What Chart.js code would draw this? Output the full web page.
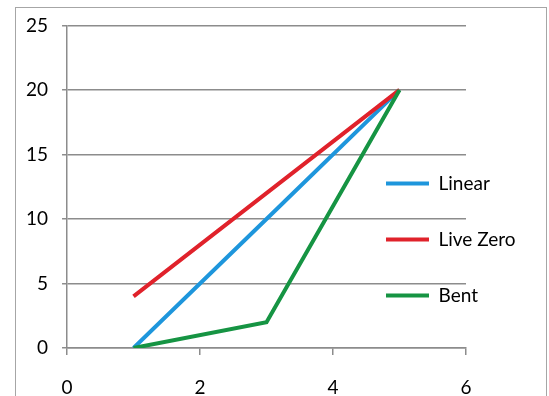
<!DOCTYPE html>
<html>
<head>
    <title>Linear / Live Zero / Bent</title>
    <meta charset="UTF-8">
    <style>
        body { margin: 0; background: #fff; }
        .frame { position: absolute; left: 15px; top: 7px; width: 530px; height: 400px; border: 1px solid #a6a6a6; }
        #myChart { position: absolute; left: 0; top: 0; }
    </style>
</head>
<body>
<div class="frame"></div>
<canvas id="myChart" width="549" height="396"></canvas>
<script src="https://cdn.jsdelivr.net/npm/chart.js"></script>
<script>
    // data
    var xValues = [1, 3, 5];
    var linearValues = [0, 10, 20];
    var liveZeroValues = [4, 12, 20];
    var bentValues = [0, 2, 20];
    var seriesNames = ['Linear', 'Live Zero', 'Bent'];
    var seriesColors = ['#1e96dc', '#e0222b', '#169443'];
    var xTicks = [0, 2, 4, 6];
    var yTicks = [0, 5, 10, 15, 20, 25];

    function points(ys) {
        return xValues.map(function (x, i) { return { x: x, y: ys[i] }; });
    }

    var gridColor = '#8c8c8c';
    var font = { family: 'Lato', size: 19 };

    // legend sits over the right part of the plot, like the excel one
    var moveLegend = {
        id: 'moveLegend',
        afterLayout: function (chart) {
            var lg = chart.legend;
            var dx = 349 - lg.left;
            var dy = 137 - lg.top;
            lg.left += dx; lg.right += dx;
            lg.top += dy; lg.bottom += dy;
        }
    };

    function series(i, ys) {
        return { label: seriesNames[i], data: points(ys), borderColor: seriesColors[i], backgroundColor: seriesColors[i], borderWidth: 4 };
    }

    var ctx = document.getElementById('myChart').getContext('2d');
    var chart = new Chart(ctx, {
        type: 'scatter',
        data: {
            // listed bottom-up so Bent is painted on top
            datasets: [series(2, bentValues), series(1, liveZeroValues), series(0, linearValues)]
        },
        options: {
            responsive: false,
            animation: false,
            showLine: true,
            elements: {
                line: { borderWidth: 4, tension: 0 },
                point: { radius: 0, hoverRadius: 0 }
            },
            layout: { padding: { left: 12, top: 20, right: 83, bottom: 0 } },
            scales: {
                x: {
                    type: 'linear', min: 0, max: 6,
                    afterBuildTicks: function (s) { s.ticks = xTicks.map(function (v) { return { value: v }; }); },
                    afterFit: function (s) { s.height = 48; },
                    ticks: { color: '#000', font: font, padding: 21 },
                    grid: { drawOnChartArea: false, color: gridColor, lineWidth: 1.5, tickLength: 7 },
                    border: { color: gridColor, width: 1.5 }
                },
                y: {
                    min: 0, max: 25,
                    afterBuildTicks: function (s) { s.ticks = yTicks.map(function (v) { return { value: v }; }); },
                    ticks: { color: '#000', font: font, padding: 14 },
                    grid: { color: gridColor, lineWidth: 1.5, tickLength: 5 },
                    border: { color: gridColor, width: 1.5 }
                }
            },
            plugins: {
                tooltip: { enabled: false },
                legend: {
                    position: 'chartArea',
                    align: 'start',
                    labels: {
                        color: '#000',
                        font: { family: 'Lato', size: 19, lineHeight: 1 },
                        usePointStyle: true,
                        pointStyle: 'line',
                        pointStyleWidth: 43,
                        padding: 37,
                        sort: function (a, b) { return b.datasetIndex - a.datasetIndex; }
                    }
                }
            }
        },
        plugins: [moveLegend]
    });
</script>
</body>
</html>
